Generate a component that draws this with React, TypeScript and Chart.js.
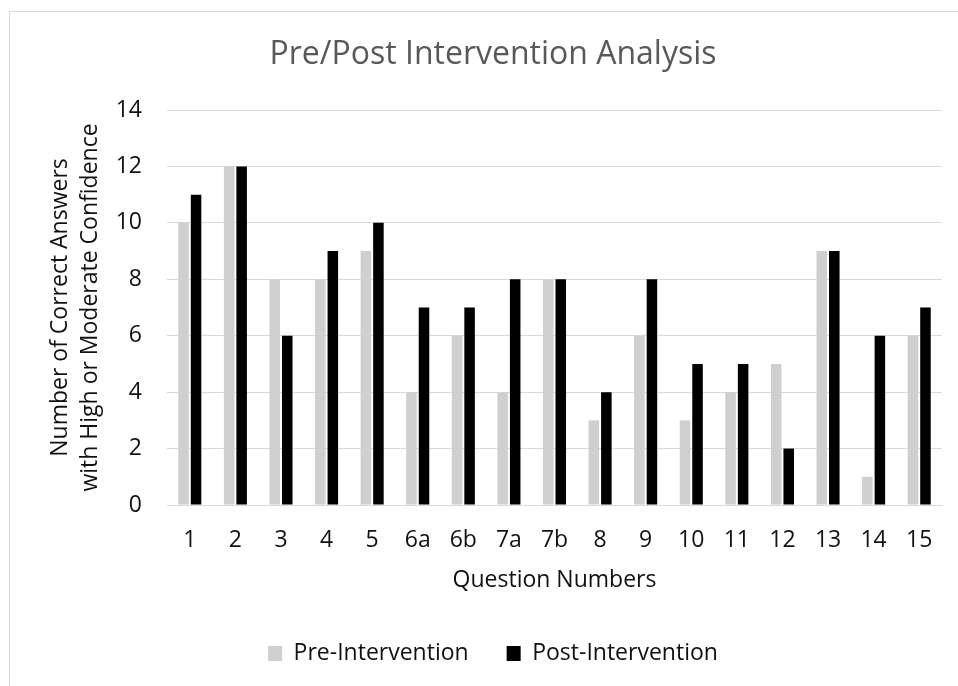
import React, { useEffect, useRef } from "react";
import { Chart, registerables } from "chart.js";

Chart.register(...registerables);

const questions = ["1", "2", "3", "4", "5", "6a", "6b", "7a", "7b", "8", "9", "10", "11", "12", "13", "14", "15"];
const preIntervention = [10, 12, 8, 8, 9, 4, 6, 4, 8, 3, 6, 3, 4, 5, 9, 1, 6];
const postIntervention = [11, 12, 6, 9, 10, 7, 7, 8, 8, 4, 8, 5, 5, 2, 9, 6, 7];
const yMin = 0;
const yMax = 14;
const yStep = 2;

const FONT = "'Open Sans', 'Noto Sans', sans-serif";
const TEXT = "#111111";

const frame = {
  id: "frame",
  beforeDraw(chart: any) {
    const ctx = chart.ctx;
    ctx.save();
    ctx.fillStyle = "#ffffff";
    ctx.fillRect(0, 0, chart.width, chart.height);
    ctx.strokeStyle = "#d9d9d9";
    ctx.lineWidth = 1;
    ctx.strokeRect(9.5, 11.5, 2000, 2000);
    ctx.restore();
  },
};

export default function App() {
  const ref = useRef<HTMLCanvasElement | null>(null);

  useEffect(() => {
    document.body.style.margin = "0";
    const canvas = ref.current;
    if (!canvas) return;
    const chart = new Chart(canvas, {
      type: "bar",
      data: {
        labels: questions,
        datasets: [
          {
            label: "Pre-Intervention",
            data: preIntervention,
            backgroundColor: "#d0cece",
            categoryPercentage: 0.55,
            barPercentage: 0.84,
          },
          {
            label: "Post-Intervention",
            data: postIntervention,
            backgroundColor: "#000000",
            categoryPercentage: 0.55,
            barPercentage: 0.84,
          },
        ],
      },
      options: {
        responsive: false,
        maintainAspectRatio: false,
        animation: false,
        layout: { padding: { left: 44, right: 16, top: 0, bottom: 11 } },
        plugins: {
          title: {
            display: true,
            text: "Pre/Post Intervention Analysis",
            color: "#595959",
            font: { family: FONT, size: 32, weight: "normal", lineHeight: 1.2 },
            padding: { top: 35.8, bottom: 35.8 },
          },
          legend: {
            position: "bottom",
            labels: {
              color: TEXT,
              font: { family: FONT, size: 23 },
              boxWidth: 14,
              boxHeight: 15,
              padding: 38,
            },
          },
          tooltip: { enabled: false },
        },
        scales: {
          x: {
            grid: { display: false, drawTicks: false },
            border: { display: true, color: "#d9d9d9", width: 1 },
            ticks: { color: TEXT, font: { family: FONT, size: 23 }, padding: 22, maxRotation: 0, autoSkip: false },
            title: {
              display: true,
              text: "Question Numbers",
              color: TEXT,
              font: { family: FONT, size: 23, lineHeight: 1.2 },
              padding: { top: 0, bottom: 10 },
            },
            afterFit(scale: any) {
              scale.height = 99;
            },
          },
          y: {
            min: yMin,
            max: yMax,
            grid: { color: "#d9d9d9", lineWidth: 1, drawTicks: false },
            border: { display: false },
            ticks: { stepSize: yStep, color: TEXT, font: { family: FONT, size: 23 }, padding: 25 },
            title: {
              display: true,
              text: ["Number of Correct Answers", "with High or Moderate Confidence"],
              color: TEXT,
              font: { family: FONT, size: 23, lineHeight: 1.32 },
              padding: { top: 0.8, bottom: 0 },
            },
            afterFit(scale: any) {
              scale.width = 123;
            },
          },
        },
      },
      plugins: [frame],
    });
    return () => chart.destroy();
  }, []);

  return (
    <div style={{ width: 958, height: 686 }}>
      <canvas ref={ref} width={958} height={686} style={{ width: 958, height: 686, display: "block" }} />
    </div>
  );
}
